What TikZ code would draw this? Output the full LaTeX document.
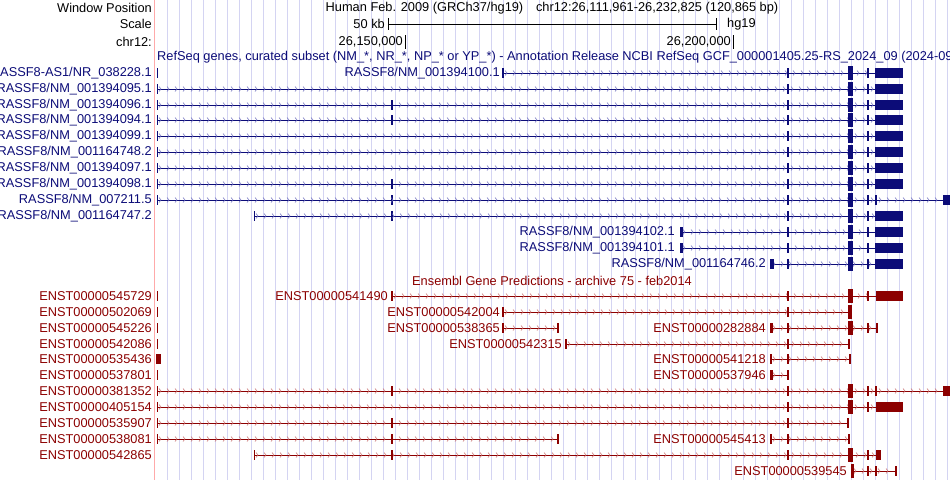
\documentclass[tikz,border=0pt]{standalone}
\usepackage{fontspec}
\setmainfont{Liberation Sans}
\usetikzlibrary{decorations.markings}
\definecolor{gb}{RGB}{12,12,120}
\definecolor{gbl}{RGB}{110,110,190}
\definecolor{gr}{RGB}{140,0,0}
\definecolor{grl}{RGB}{200,110,110}
\definecolor{grid}{RGB}{212,212,242}
\definecolor{pinkline}{RGB}{255,170,170}
\tikzset{
  lab/.style={anchor=east,inner sep=0pt,font=\fontsize{12.8}{14}\selectfont},
  ttl/.style={anchor=west,inner sep=0pt,font=\fontsize{12.8}{14}\selectfont},
  intr/.style={line width=0.9pt,draw=#1,postaction={decorate,decoration={markings,
     mark=between positions 4pt and -2pt step 8pt with {\draw[#1l,line width=0.5pt] (-2pt,2.5pt)--(0,0)--(-2pt,-2.5pt);}}}},
}
\newcommand\gl[4]{\draw[intr=#4] (#2,#1)--(#3,#1);}
\newcommand\tk[3]{\draw[#3,line width=1.2pt] (#2,#1-5)--(#2,#1+5);}
\newcommand\bk[4]{\fill[#4] (#2,#1-5) rectangle (#3,#1+5);}
\newcommand\ex[4]{\fill[#4] (#2,#1-7) rectangle (#3,#1+7);}
\begin{document}
\begin{tikzpicture}[x=1pt,y=-1pt]
\useasboundingbox (0,0) rectangle (950,480);
\clip (0,0) rectangle (950,480);
\fill[white] (0,0) rectangle (950,480);
\foreach \i in {0,...,65} \draw[grid,line width=0.8pt] (167.3+12*\i,0)--(167.3+12*\i,480);
\draw[pinkline,line width=1pt] (154.5,0)--(154.5,480);
% header
\node[lab] (wp) at (152,8) {Window Position};
\node[lab] (sc) at (152,24) {Scale};
\node[lab] (ch) at (152,42) {chr12:};
\node[anchor=center,inner sep=0pt,font=\fontsize{12.8}{14}\selectfont] (hd) at (552,8) {Human Feb. 2009 (GRCh37/hg19)\quad chr12:26,111,961-26,232,825 (120,865 bp)};
\node[lab] (kb) at (385,24) {50 kb};
\coordinate (sb1) at (388,24); \coordinate (sb2) at (716,24);
\draw[black,line width=0.8pt] (sb1)--(sb2);
\draw[black,line width=1pt] (388,18)--(388,30) (716,18)--(716,30);
\node[ttl] (hg) at (727,24) {hg19};
\node[lab] (p1) at (403,42) {26,150,000};
\draw[black,line width=1pt] (405,35)--(405,49);
\node[lab] (p2) at (731,42) {26,200,000};
\draw[black,line width=1pt] (733,35)--(733,49);
% RefSeq
\node[ttl,text=gb] (rt) at (157,57) {RefSeq genes, curated subset (NM\_*, NR\_*, NP\_* or YP\_*) - Annotation Release NCBI RefSeq GCF\_000001405.25-RS\_2024\_09 (2024-09)};
\foreach \yy/\nm in {73/{RASSF8-AS1/NR\_038228.1},89/{RASSF8/NM\_001394095.1},105/{RASSF8/NM\_001394096.1},120/{RASSF8/NM\_001394094.1},136/{RASSF8/NM\_001394099.1},152/{RASSF8/NM\_001164748.2},168/{RASSF8/NM\_001394097.1},184/{RASSF8/NM\_001394098.1},200/{RASSF8/NM\_007211.5},216/{RASSF8/NM\_001164747.2}}
  \node[lab,text=gb] at (152,\yy) {\nm};
\tk{73}{157.5}{gb}
\node[lab,text=gb] (b100) at (500,73) {RASSF8/NM\_001394100.1};
\gl{73}{503}{876}{gb}\tk{73}{503}{gb}
\foreach \yy in {89,105,120,136,152,168,184} {\gl{\yy}{157}{876}{gb}\tk{\yy}{157.5}{gb}}
\foreach \yy in {105,120,184,200,216} {\tk{\yy}{392}{gb}}
\gl{200}{157}{946}{gb}\tk{200}{157.5}{gb}\bk{200}{943}{950}{gb}
\gl{216}{254}{876}{gb}\tk{216}{254.5}{gb}
\node[lab,text=gb] (b102) at (675,232) {RASSF8/NM\_001394102.1};
\node[lab,text=gb] (b101) at (675,248) {RASSF8/NM\_001394101.1};
\node[lab,text=gb] (b746) at (766,264) {RASSF8/NM\_001164746.2};
\gl{232}{681}{876}{gb}\bk{232}{680}{683}{gb}
\gl{248}{681}{876}{gb}\bk{248}{680}{683}{gb}
\gl{264}{771}{876}{gb}\bk{264}{770}{774}{gb}
\foreach \yy in {73,89,105,120,136,152,168,184,200,216,232,248,264} {\tk{\yy}{788}{gb}\ex{\yy}{848}{853}{gb}\tk{\yy}{868}{gb}\tk{\yy}{876}{gb}}
\foreach \yy in {73,89,105,120,136,152,168,184,216,232,248,264} {\bk{\yy}{876}{903}{gb}}
% Ensembl
\node[anchor=center,inner sep=0pt,text=gr,font=\fontsize{12.8}{14}\selectfont] (et) at (552,281) {Ensembl Gene Predictions - archive 75 - feb2014};
\foreach \yy/\nm in {296/545729,312/502069,328/545226,344/542086,359/535436,375/537801,391/381352,407/405154,423/535907,439/538081,455/542865}
  \node[lab,text=gr] at (152,\yy) {ENST00000\nm};
\foreach \yy in {296,312,328,344,375} {\tk{\yy}{157.5}{gr}}
\bk{359}{156}{161}{gr}
\node[lab,text=gr] (e490) at (388,296) {ENST00000541490};
\gl{296}{392}{876}{gr}\tk{296}{392}{gr}
\ex{296}{848}{853}{gr}\tk{296}{868}{gr}\bk{296}{876}{903}{gr}\tk{296}{788}{gr}
\node[lab,text=gr] (e004) at (500,312) {ENST00000542004};
\gl{312}{503}{849}{gr}\tk{312}{503}{gr}\tk{312}{788}{gr}\ex{312}{848}{852}{gr}
\node[lab,text=gr] (e365) at (500,328) {ENST00000538365};
\gl{328}{503}{558}{gr}\tk{328}{503}{gr}\tk{328}{558}{gr}
\node[lab,text=gr] (e884) at (766,328) {ENST00000282884};
\gl{328}{771}{877}{gr}\bk{328}{770}{773}{gr}\tk{328}{788}{gr}\ex{328}{848}{853}{gr}\tk{328}{868}{gr}\tk{328}{877}{gr}
\node[lab,text=gr] (e315) at (562,344) {ENST00000542315};
\gl{344}{566}{849}{gr}\tk{344}{566}{gr}\tk{344}{788}{gr}\tk{344}{849}{gr}
\node[lab,text=gr] (e218) at (766,359) {ENST00000541218};
\gl{359}{771}{850}{gr}\tk{359}{771}{gr}\tk{359}{788}{gr}\bk{359}{848.5}{851}{gr}
\node[lab,text=gr] (e946) at (766,375) {ENST00000537946};
\gl{375}{771}{788}{gr}\bk{375}{770}{773}{gr}\tk{375}{788}{gr}
\gl{391}{157}{946}{gr}\tk{391}{157.5}{gr}\tk{391}{392}{gr}\tk{391}{788}{gr}\ex{391}{848}{853}{gr}\tk{391}{868}{gr}\tk{391}{876}{gr}\bk{391}{943}{950}{gr}
\gl{407}{157}{876}{gr}\tk{407}{157.5}{gr}\tk{407}{788}{gr}\ex{407}{848}{853}{gr}\tk{407}{868}{gr}\bk{407}{876}{903}{gr}
\gl{423}{157}{848}{gr}\tk{423}{157.5}{gr}\tk{423}{392}{gr}\tk{423}{788}{gr}\tk{423}{848}{gr}
\gl{439}{157}{558}{gr}\tk{439}{157.5}{gr}\tk{439}{392}{gr}\tk{439}{558}{gr}
\node[lab,text=gr] (e413) at (766,439) {ENST00000545413};
\gl{439}{771}{849}{gr}\tk{439}{771}{gr}\tk{439}{788}{gr}\tk{439}{849}{gr}
\gl{455}{254}{880}{gr}\tk{455}{254.5}{gr}\tk{455}{392}{gr}\tk{455}{788}{gr}\ex{455}{848}{853}{gr}\tk{455}{868}{gr}\bk{455}{876}{881}{gr}
\node[lab,text=gr] (e545) at (847,471) {ENST00000539545};
\gl{471}{852}{896}{gr}\ex{471}{851}{854}{gr}\tk{471}{868}{gr}\tk{471}{876}{gr}\tk{471}{896}{gr}
\end{tikzpicture}
\end{document}
